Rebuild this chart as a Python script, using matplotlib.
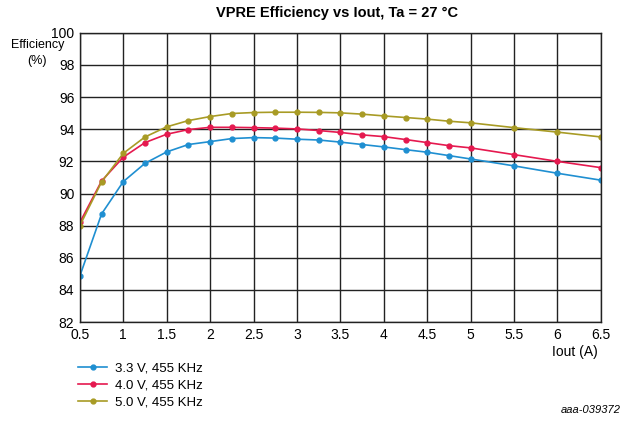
import matplotlib
matplotlib.use("Agg")
import matplotlib.pyplot as plt

iout = [0.5, 0.75, 1.0, 1.25, 1.5, 1.75, 2.0, 2.25, 2.5, 2.75, 3.0, 3.25,
        3.5, 3.75, 4.0, 4.25, 4.5, 4.75, 5.0, 5.5, 6.0, 6.5]
eff_33 = [84.87, 88.73, 90.74, 91.88, 92.59, 93.05, 93.23, 93.42, 93.48, 93.45, 93.38, 93.33,
          93.2, 93.05, 92.9, 92.73, 92.57, 92.36, 92.15, 91.72, 91.26, 90.83]
eff_40 = [88.2, 90.78, 92.26, 93.17, 93.69, 93.98, 94.12, 94.12, 94.1, 94.07, 94.02, 93.92,
          93.8, 93.65, 93.54, 93.36, 93.17, 92.98, 92.84, 92.42, 92.0, 91.61]
eff_50 = [88.0, 90.72, 92.5, 93.52, 94.15, 94.54, 94.79, 94.98, 95.04, 95.06, 95.06, 95.05,
          95.02, 94.94, 94.83, 94.73, 94.63, 94.5, 94.4, 94.1, 93.82, 93.52]
labels = ["3.3 V, 455 KHz", "4.0 V, 455 KHz", "5.0 V, 455 KHz"]
colors = ["#1f8fd1", "#e5194f", "#a89b25"]

plt.rcParams['font.family'] = ['Liberation Sans', 'DejaVu Sans']

fig = plt.figure(figsize=(6.24, 4.21), dpi=100)
ax = fig.add_axes([0.128, 0.235, 0.835, 0.687])

lines = []
for y, lab, c in zip([eff_33, eff_40, eff_50], labels, colors):
    ln, = ax.plot(iout, y, color=c, lw=1.2, marker='o', ms=3.5, label=lab)
    lines.append(ln)

ax.set_xlim(0.5, 6.5)
ax.set_ylim(82, 100)
ax.set_xticks([0.5, 1, 1.5, 2, 2.5, 3, 3.5, 4, 4.5, 5, 5.5, 6, 6.5])
ax.set_xticklabels(["0.5", "1", "1.5", "2", "2.5", "3", "3.5", "4", "4.5", "5", "5.5", "6", "6.5"])
ax.set_yticks(range(82, 101, 2))
ax.grid(True, color='#222222', lw=1.0)
ax.set_axisbelow(True)
ax.tick_params(length=0, labelsize=10, pad=4)
for s in ax.spines.values():
    s.set_color('#222222')
    s.set_linewidth(1.0)

fig.text(0.54, 0.968, "VPRE Efficiency vs Iout, Ta = 27 °C", ha='center', va='center',
         fontsize=10.5, fontweight='bold')
# y axis title sits above the tick labels, split in two lines
fig.text(0.06, 0.893, "Efficiency", ha='center', va='center', fontsize=9)
fig.text(0.06, 0.855, "(%)", ha='center', va='center', fontsize=9)
fig.text(0.885, 0.165, "Iout (A)", ha='left', va='center', fontsize=10)
fig.text(0.995, 0.025, "aaa-039372", ha='right', va='center', fontsize=8, style='italic')

fig.legend(handles=lines, loc='upper left', bbox_to_anchor=(0.115, 0.155), frameon=False,
           fontsize=9.5, handlelength=2.2, labelspacing=0.35, borderpad=0, handletextpad=0.6)

fig.savefig("out.png", dpi=100)
